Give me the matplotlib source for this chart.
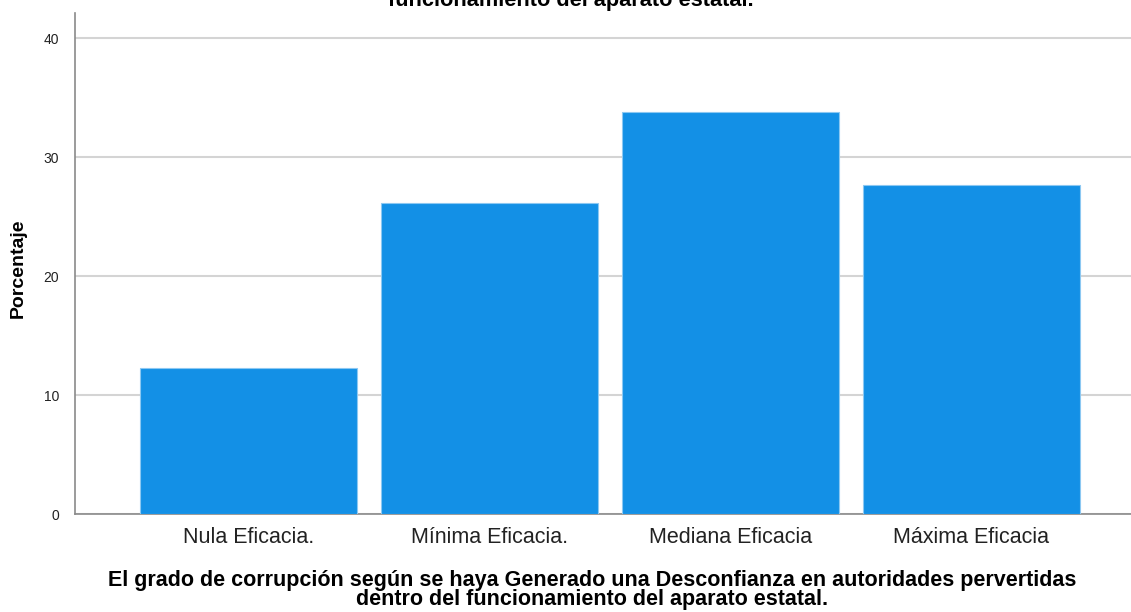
import matplotlib
matplotlib.use("Agg")
import matplotlib.pyplot as plt
import numpy as np

# Porcentaje por nivel de eficacia (barras simples, estilo SPSS)
categorias = ["Nula Eficacia.", "Mínima Eficacia.", "Mediana Eficacia", "Máxima Eficacia"]
porcentaje = [12.27, 26.13, 33.83, 27.67]
yticks = [0, 10, 20, 30, 40]

titulo = "funcionamiento del aparato estatal."
etiqueta_x = ("El grado de corrupción según se haya Generado una Desconfianza en autoridades pervertidas\n"
              "dentro del funcionamiento del aparato estatal.")

plt.rcParams["font.family"] = ["Liberation Sans", "DejaVu Sans"]

fig = plt.figure(figsize=(11.31, 6.12), dpi=100)
ax = fig.add_axes([0.0659, 0.1596, 0.9341, 0.819])

x = np.arange(len(categorias))
ax.bar(x, porcentaje, width=0.9, color="#1390e6", edgecolor="#8cc8f2", linewidth=0.8, zorder=3)

ax.set_xlim(-0.722, 3.662)
ax.set_ylim(0, 42.1)
ax.set_yticks(yticks)
ax.set_xticks(x)
ax.set_xticklabels(categorias, fontsize=15.5, color="#222222")
ax.tick_params(axis="x", length=0, pad=9)
ax.tick_params(axis="y", length=0, pad=11, labelsize=10, labelcolor="#222222")

ax.grid(axis="y", color="#d4d4d4", linewidth=1.5, zorder=0)
for s in ["top", "right"]:
    ax.spines[s].set_visible(False)
ax.spines["left"].set_color("#8a8a8a")
ax.spines["bottom"].set_color("#8a8a8a")
ax.spines["left"].set_linewidth(1.2)
ax.spines["bottom"].set_linewidth(1.2)

ax.set_ylabel("Porcentaje", fontsize=14, fontweight="bold", va="center")
ax.yaxis.set_label_coords(-0.0535, 0.491)

ax.set_xlabel(etiqueta_x, fontsize=15.5, fontweight="bold", va="center", linespacing=0.85)
ax.xaxis.set_label_coords(0.49, -0.151)

fig.text(0.505, 0.999, titulo, fontsize=15.7, fontweight="bold", ha="center", va="center")

fig.savefig("out.png", dpi=100)
